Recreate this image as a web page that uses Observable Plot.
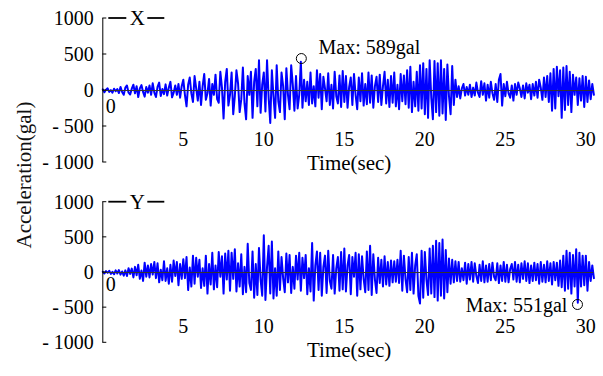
<!DOCTYPE html>
<html>
<head>
<meta charset="utf-8">
<script src="https://cdn.jsdelivr.net/npm/d3@7"></script>
<script src="https://cdn.jsdelivr.net/npm/@observablehq/plot@0.6"></script>
<style>
  html, body { margin: 0; padding: 0; background: white; }
  #wrap { position: relative; width: 603px; height: 376px; overflow: hidden; background: white; }
  #wrap svg { display: block; }
  #ylab { position: absolute; left: 24px; top: 175px; transform: translate(-50%, -50%) rotate(-90deg);
          font-family: 'Liberation Serif', 'Times New Roman', serif; font-size: 21px; white-space: nowrap; color: #111; }
</style>
</head>
<body>
<div id="wrap"><div id="ylab">Acceleration(gal)</div></div>
<script>
// sampling step of the traced waveform (seconds)
const dt = 0.1;

// X component, acceleration in gal (one row per second)
const accX = [
  15,-25,10,30,-20,5,-30,25,-10,20,
  -35,50,-20,-60,40,70,-30,-55,25,80,
  -40,60,-90,30,75,-20,-85,50,-30,70,
  -60,100,-30,-90,50,110,-75,20,-50,85,
  -70,40,120,-95,-30,70,-60,90,-100,60,
  150,-60,-220,80,180,-40,-160,200,30,-140,
  120,-200,60,230,-130,-40,160,-210,90,-60,
  220,-120,-170,260,40,-390,120,300,-210,-60,
  250,-330,-80,280,100,-300,-120,320,-180,-400,
  200,-60,260,-380,120,300,-220,420,-310,80,
  250,-290,420,-100,-450,280,-80,-380,350,-150,
  -300,250,60,-400,310,-60,-260,350,80,-280,
  200,-250,-60,400,-240,150,-150,120,-200,250,
  -180,60,-220,280,-100,230,-260,190,30,-150,
  240,-200,80,-250,260,-80,-180,210,-230,270,
  -160,200,-240,50,180,-200,230,-60,-260,180,
  -150,240,-210,90,-190,250,-170,210,-240,60,
  190,-160,220,-200,60,260,-180,150,-230,200,
  -170,250,-220,80,-260,230,-150,210,-190,280,
  -240,330,-300,120,-220,260,-280,350,-250,380,
  -330,300,-380,420,-100,-400,410,-300,380,-350,
  420,-320,300,-410,360,-80,-330,340,-200,150,
  -90,60,-110,30,90,-70,50,-60,80,-90,
  40,-70,110,-30,-90,130,-60,100,-140,80,
  -100,120,-40,-130,90,-160,150,230,-210,90,
  -80,120,-40,-100,70,-140,90,-60,110,30,
  -90,70,-110,100,-30,80,-120,90,-70,120,
  -100,150,40,-130,180,-90,200,-160,240,-280,
  300,-250,330,-80,280,-380,320,-270,340,-200,
  260,-300,220,-60,180,-200,170,-140,200,-230,
  190,-160,140,-120,90,-60
];

// Y component, acceleration in gal
const accY = [
  10,-15,20,-5,25,-20,10,-25,30,-15,
  35,-30,15,-45,30,-50,60,-20,55,-70,
  80,-40,110,-90,30,-120,140,-60,100,-70,
  120,-30,150,-80,130,-140,40,-110,160,-120,
  60,-160,110,-130,170,-50,150,-180,120,-90,
  190,-80,220,-250,70,-200,240,-160,210,-60,
  180,-220,60,-190,240,-300,120,-170,280,-240,
  100,-210,290,-60,230,-300,270,-100,310,-260,
  280,-90,330,-270,130,-200,260,-310,80,-280,
  410,-150,-250,300,-360,120,-320,350,-100,-330,
  530,-390,80,380,-300,440,-370,60,-330,300,
  -250,220,-80,-280,270,-140,250,-290,80,-230,
  240,-100,280,-260,210,-80,250,-310,60,-270,
  420,-400,100,300,-250,280,-330,80,240,-290,
  310,-120,-230,250,-300,60,220,-260,290,-240,
  340,-270,100,250,-310,220,-60,280,-330,260,
  -240,230,-90,-280,300,-250,380,-320,260,-100,
  -290,210,-150,180,-200,230,-170,150,-190,170,
  -140,160,-130,180,-150,310,-260,240,-90,-280,
  220,-250,280,-300,100,260,-330,-440,310,-360,
  290,-100,-320,340,-300,380,-350,450,-400,420,
  -330,470,-370,320,-280,200,-160,180,-140,160,
  -120,150,-130,60,-110,140,-160,120,-100,150,
  -130,130,-50,-150,110,-120,160,-140,100,-130,
  120,-110,140,-60,-110,130,-150,100,-120,150,
  -130,110,-140,50,120,-100,150,-130,110,-140,
  130,-90,160,-120,130,-150,100,-120,140,-110,
  120,-160,150,-130,110,-140,160,-120,130,-170,
  150,-110,140,-190,170,-210,240,-260,310,-230,
  280,-300,250,-200,330,-430,280,-200,240,-180,
  240,-260,150,-120,100,-80
];

const yTicks = [-1000, -500, 0, 500, 1000];
const xTicks = [5, 10, 15, 20, 25, 30];
const xDomain = [0, 30.5];

// peak annotations
const peakX = {t: 12.33, a: 444, label: "Max: 589gal", lt: 13.4, la: 597, anchor: "start"};
const peakY = {t: 29.48, a: -455, label: "Max: 551gal", lt: 28.85, la: -470, anchor: "end"};

const FONT = "'Liberation Serif', 'Times New Roman', serif";
const fmt = d => d < 0 ? "- " + (-d) : String(d);

function panel(values, name, cfg) {
  const data = values.map((a, i) => ({t: +(i * dt).toFixed(2), a}));
  const innerTicks = (index, scales, vals, dims) => {
    const g = d3.create("svg:g").attr("stroke", "black").attr("stroke-width", 1);
    for (const v of yTicks) {
      const y = scales.y(v);
      g.append("line").attr("x1", dims.marginLeft).attr("x2", dims.marginLeft + 4)
        .attr("y1", y).attr("y2", y);
    }
    return g.node();
  };
  const legend = (index, scales, vals, dims) => {
    const g = d3.create("svg:g");
    const x0 = dims.marginLeft, y0 = scales.y(1000);
    g.append("line").attr("x1", x0 + 6).attr("x2", x0 + 24).attr("y1", y0).attr("y2", y0)
      .attr("stroke", "black").attr("stroke-width", 1.8);
    g.append("line").attr("x1", x0 + 45).attr("x2", x0 + 62).attr("y1", y0).attr("y2", y0)
      .attr("stroke", "black").attr("stroke-width", 1.8);
    g.append("text").attr("x", x0 + 35).attr("y", y0 + 2).attr("text-anchor", "middle")
      .attr("dominant-baseline", "middle").attr("font-size", 21).attr("fill", "black").text(name);
    return g.node();
  };
  return Plot.plot({
    width: 603, height: 188,
    marginLeft: 102.3, marginRight: 9.6, marginTop: cfg.mt, marginBottom: cfg.mb,
    x: {domain: xDomain, axis: null},
    y: {domain: [-1000, 1000], axis: null},
    style: {fontFamily: FONT, fontSize: "20px", background: "white", color: "black", overflow: "visible"},
    marks: [
      Plot.line(data, {x: "t", y: "a", stroke: "#0000ff", strokeWidth: 2}),
      Plot.ruleY([0], {stroke: "#333", strokeWidth: 1}),
      Plot.ruleX([0], {y1: -1000, y2: 1000, stroke: "black", strokeWidth: 1}),
      innerTicks,
      Plot.axisY(yTicks, {tickSize: 0, tickPadding: 9, tickFormat: fmt, fill: "black"}),
      Plot.text(xTicks, {x: d => d, y: cfg.xLabY, text: d => String(d), fill: "black"}),
      Plot.text([0], {x: 0, y: cfg.zeroY, text: d => String(d), dx: 8, fill: "black"}),
      Plot.text(["Time(sec)"], {x: 15.3, y: cfg.titleY, text: d => d, fontSize: 21, fill: "black"}),
      Plot.dot([cfg.peak], {x: "t", y: "a", r: 5, stroke: "black", fill: "none", strokeWidth: 1}),
      Plot.text([cfg.peak], {x: "lt", y: "la", text: "label", textAnchor: cfg.peak.anchor, fill: "black"}),
      legend
    ]
  });
}

const wrap = document.getElementById("wrap");
wrap.appendChild(panel(accX, "X", {mt: 18, mb: 26, xLabY: -680, zeroY: -220, titleY: -1015, peak: peakX}));
wrap.appendChild(panel(accY, "Y", {mt: 13.7, mb: 33.7, xLabY: -768, zeroY: -170, titleY: -1110, peak: peakY}));
</script>
</body>
</html>
